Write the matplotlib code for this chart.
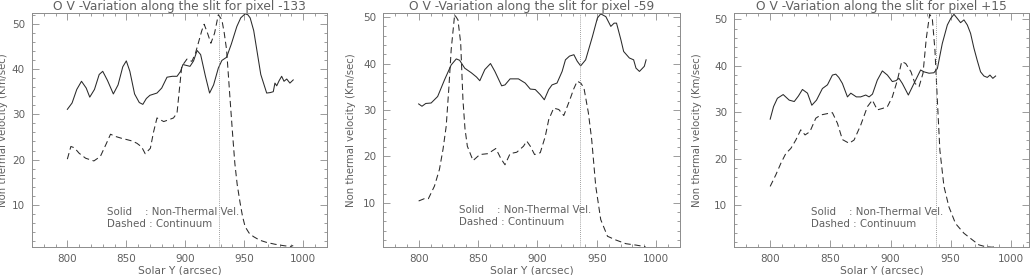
## Import libraries
import numpy as np
from matplotlib import pyplot as plt
from matplotlib.ticker import MultipleLocator

## Data (x = Solar Y in arcsec, y = km/s)
titles = ['O V -Variation along the slit for pixel -133',
          'O V -Variation along the slit for pixel -59',
          'O V -Variation along the slit for pixel +15']

solid_x_133 = [800, 804, 808, 812, 816, 819, 823, 827, 830, 834, 839, 843, 847, 850, 853, 857, 861, 864,
               867, 870, 876, 880, 884.5, 889, 893, 896, 898, 901, 904, 907, 910, 913, 917, 920.6, 924, 928,
               931, 935, 939, 943.7, 947, 950.7, 953, 955, 958, 960.6, 964, 969, 972, 974.6, 976, 977.5,
               979.5, 981.7, 983.7, 986, 988.7, 991.5]
solid_y_133 = [31.1, 32.5, 35.5, 37.3, 35.8, 33.8, 35.5, 38.8, 39.5, 37.5, 34.5, 36.5, 40.5, 41.8, 39.5,
               34.5, 32.6, 32.2, 33.5, 34.2, 34.7, 35.8, 38.2, 38.4, 38.4, 39.5, 41, 40.8, 40.6, 41.8, 44.1,
               43.2, 38.5, 34.7, 36.5, 40.2, 41.9, 42.6, 45.5, 49.4, 51.3, 52.2, 52.0, 51.3, 48.5, 44.3, 38.8,
               34.7, 34.8, 35.0, 36.9, 36.3, 37.4, 38.4, 37.3, 37.8, 36.9, 37.6]

dash_x_133 = [800, 803, 806, 810, 815.5, 822.5, 828, 833, 836.6, 841, 846, 850.7, 855, 859, 863, 866,
              870.4, 873, 876, 881.7, 886, 890, 893, 895, 897, 901.4, 905.6, 908.5, 911, 914, 916, 918.9,
              921.7, 924.8, 928, 931, 933, 935, 938, 940, 942, 944, 946.5, 948.5, 950.7, 954, 957.7, 963,
              969, 976, 983, 988.7, 991.5]
dash_y_133 = [20.1, 22.9, 22.6, 21.4, 20.3, 19.7, 20.7, 23.5, 25.6, 25.1, 24.7, 24.4, 24.1, 23.6, 22.8,
              21.3, 22.5, 26, 29.2, 28.4, 28.8, 29.2, 30.3, 35.5, 40.6, 42.2, 41.7, 43.4, 45.7, 48.5, 49.9,
              47.9, 45.7, 47.9, 52.0, 50.9, 48, 44.3, 33.2, 26, 19.2, 14.5, 10.4, 7.5, 5.2, 3.8, 3.0, 2.2,
              1.7, 1.3, 1.0, 0.8, 1.0]

solid_x_59 = [800, 802.8, 806, 810.5, 816, 821.8, 827.4, 831.7, 834.5, 838.8, 844.4, 848.7, 851.5, 855.7,
              860.5, 864.2, 869.9, 872.7, 877, 884, 889.7, 894, 898.2, 902.4, 905.8, 909.5, 912.3, 916.5,
              920.8, 923.6, 927, 930.7, 933.5, 936.4, 940.6, 946.3, 950.5, 953.3, 957.6, 961.8, 964.6,
              966.6, 970.3, 972.6, 977.4, 981, 983, 985.9, 990, 991.5]
solid_y_59 = [31.3, 30.8, 31.4, 31.5, 32.9, 36.5, 39.7, 41.0, 40.7, 39.0, 38.0, 37.1, 36.3, 38.7, 40.0,
              38.3, 35.2, 35.4, 36.7, 36.7, 35.8, 34.5, 34.4, 33.3, 32.2, 34.4, 35.4, 35.8, 38.3, 40.8, 41.6,
              41.9, 40.5, 39.5, 40.8, 45.8, 49.8, 50.7, 50.1, 48.0, 48.7, 48.7, 45.1, 42.6, 41.2, 40.8, 39.0,
              38.3, 39.4, 40.8]

dash_x_59 = [800, 804.8, 808.2, 813.3, 817.5, 820.5, 823.2, 825.5, 827.4, 830.3, 833.1, 835.4, 837.3,
             839, 841, 845.8, 851.5, 855, 858.6, 862, 865, 869.3, 872.7, 877, 882.6, 888.3, 891, 894, 897.6,
             902.4, 906.6, 909.5, 913.7, 918, 922.2, 927.3, 930.5, 933.5, 936.5, 939.2, 942.9, 945.7, 949.1,
             953.3, 959, 966, 974.5, 983, 991]
dash_y_59 = [10.4, 10.9, 10.9, 13.6, 17.2, 21.5, 26.5, 35, 43.0, 50.5, 49.4, 44.4, 32.2, 26, 22.2, 19.1,
             20.4, 20.5, 20.6, 21.2, 21.7, 19.5, 18.2, 20.6, 20.9, 22.2, 23.3, 22.2, 20.4, 20.8, 24.3, 27.9,
             30.4, 30.1, 28.8, 32.2, 34.5, 36.2, 35.8, 34.7, 29.4, 23.6, 13.6, 6.4, 2.8, 2.0, 1.2, 0.9, 0.55]

solid_x_15 = [800, 802.8, 806, 810.8, 815.8, 820, 823.5, 826.8, 831, 834.6, 838.5, 843.4, 847.6, 851.7,
              854.5, 857, 860, 864.2, 867, 871.6, 875.2, 879.4, 882.2, 885, 889, 893.2, 897.4, 901.5, 904.5,
              907, 909.8, 914.8, 919.5, 925, 927.8, 932, 936, 938.9, 943, 947.2, 950, 952.7, 955.5, 958.2,
              961, 963.8, 966.5, 969.3, 972, 974.8, 977.6, 980.4, 982.6, 985, 987.3]
solid_y_15 = [28.5, 31.2, 33.0, 33.8, 32.6, 32.3, 33.5, 34.9, 34.1, 31.5, 32.6, 35.1, 35.9, 38.0, 38.2,
              37.5, 36.2, 33.3, 34.1, 33.3, 33.3, 33.7, 33.3, 33.9, 36.9, 38.9, 38.0, 36.6, 36.8, 37.3, 36.2,
              33.7, 36.2, 39.1, 38.7, 38.4, 38.5, 39.4, 44.8, 48.8, 50.2, 51.1, 50.2, 49.3, 49.9, 48.8, 47.0,
              43.8, 41.2, 38.7, 37.8, 37.5, 38.0, 37.3, 37.8]

dash_x_15 = [800, 804.7, 808.9, 813, 817.2, 821.3, 825.4, 829, 833, 837.9, 842, 847.6, 851.7, 855.9, 860,
             865.6, 869.7, 875.2, 880.8, 884.9, 889, 893.2, 897.4, 901.5, 905.7, 909.3, 912.6, 917, 920.3,
             923.7, 927, 929.7, 932.5, 934.7, 936.9, 938.9, 941, 944.4, 948.5, 954, 961, 967.9, 973.4, 979,
             984.5, 987]
dash_y_15 = [14.0, 16.5, 19.0, 21.1, 22.2, 24.0, 26.2, 25.1, 25.8, 28.7, 29.4, 29.7, 29.9, 27.6, 24.1,
             23.3, 24.0, 27.2, 31.2, 32.6, 30.5, 30.8, 31.2, 33.3, 36.9, 40.9, 40.5, 38.7, 36.2, 35.5, 38.4,
             45.9, 51.1, 50.2, 43.4, 32.6, 21.8, 14.0, 9.6, 6.0, 3.9, 2.5, 1.4, 1.0, 0.9, 1.0]

limb_x = [929, 936, 937.5]
ylims = [(0.7, 52.4), (0.5, 50.9), (0.95, 51.4)]
xlims = [(770, 1020), (770, 1020), (770, 1015)]

solids = [(solid_x_133, solid_y_133), (solid_x_59, solid_y_59), (solid_x_15, solid_y_15)]
dashes = [(dash_x_133, dash_y_133), (dash_x_59, dash_y_59), (dash_x_15, dash_y_15)]

## Figure layout, three panels in a row
fig = plt.figure(figsize=(10.31, 2.75), dpi=100)
lefts = [0.031, 0.3715, 0.712]
widths = [0.286, 0.288, 0.286]
ylab_x = [-0.08, -0.092, -0.11]

txt_c = '#606060'
ax_c = '#8c8c8c'

for i in range(3):
    ax = fig.add_axes([lefts[i], 0.102, widths[i], 0.851])
    ax.plot(solids[i][0], solids[i][1], color='#2a2a2a', lw=0.75)
    ax.plot(dashes[i][0], dashes[i][1], color='#2a2a2a', lw=0.75, dashes=(6, 3.5))
    ax.axvline(x=limb_x[i], color='#808080', lw=0.6, ls=(0, (1, 1.5)))
    ax.set_xlim(xlims[i])
    ax.set_ylim(ylims[i])
    ax.xaxis.set_major_locator(MultipleLocator(50))
    ax.xaxis.set_minor_locator(MultipleLocator(10))
    ax.yaxis.set_major_locator(MultipleLocator(10))
    ax.yaxis.set_minor_locator(MultipleLocator(2))
    ax.tick_params(which='both', direction='in', top=True, right=True, colors=ax_c,
                   labelcolor=txt_c, labelsize=7.5, width=0.6)
    ax.tick_params(which='major', length=5, pad=5)
    ax.tick_params(which='minor', length=2.5)
    for s in ax.spines.values():
        s.set_color(ax_c)
        s.set_linewidth(0.7)
    ax.set_title(titles[i], fontsize=8.8, color=txt_c, pad=1.5)
    ax.set_xlabel('Solar Y (arcsec)', fontsize=7.7, color=txt_c, labelpad=1)
    ax.set_ylabel('Non thermal velocity (Km/sec)', fontsize=7.3, color=txt_c)
    ax.yaxis.set_label_coords(ylab_x[i], 0.5)
    ax.text(834, 8.5, 'Solid    : Non-Thermal Vel.', fontsize=7.4, color=txt_c, va='center')
    ax.text(834, 5.8, 'Dashed : Continuum', fontsize=7.4, color=txt_c, va='center')

plt.savefig('out.png', dpi=100)
plt.close('all')
